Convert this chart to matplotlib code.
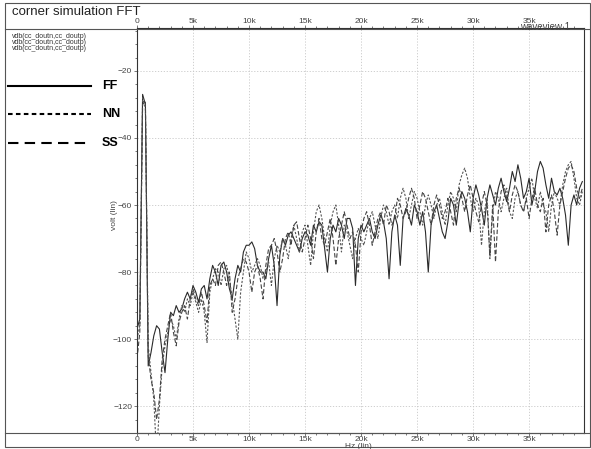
import numpy as np
import matplotlib.pyplot as plt
from matplotlib.lines import Line2D
from matplotlib.patches import Rectangle
from matplotlib.ticker import MultipleLocator, FuncFormatter

plt.rcParams['font.family'] = ['Liberation Sans', 'DejaVu Sans']

# frequency grid of the FFT, 250 Hz bins
freq = np.arange(160) * 250.0

ff = [-97, -94, -27, -30, -108, -104, -99, -96,
      -97, -104, -110, -100, -92, -93, -90, -92,
      -91, -88, -86, -88, -84, -86, -89, -85,
      -84, -88, -82, -78, -80, -84, -78, -77,
      -80, -85, -88, -82, -78, -80, -74, -72,
      -72, -71, -73, -78, -80, -80, -82, -76,
      -72, -78, -90, -75, -70, -72, -69, -68,
      -70, -72, -74, -70, -68, -69, -72, -66,
      -68, -65, -66, -73, -80, -70, -66, -68,
      -64, -66, -70, -64, -64, -67, -84, -70,
      -66, -68, -66, -64, -68, -70, -66, -63,
      -65, -70, -82, -68, -63, -66, -78, -64,
      -61, -63, -66, -60, -62, -66, -62, -68,
      -80, -66, -62, -60, -64, -68, -70, -65,
      -58, -60, -66, -59, -56, -58, -62, -68,
      -58, -54, -57, -61, -66, -58, -54, -57,
      -60, -55, -52, -56, -59, -55, -50, -53,
      -48, -52, -58, -56, -52, -60, -56, -50,
      -47, -49, -54, -58, -52, -56, -57, -55,
      -58, -63, -72, -60, -57, -60, -55, -53]

nn = [-100, -96, -28, -31, -102, -110, -118, -135,
      -120, -108, -102, -98, -94, -96, -100, -94,
      -90, -92, -88, -90, -86, -89, -92, -88,
      -92, -101, -86, -82, -79, -80, -84, -79,
      -78, -82, -88, -94, -100, -86, -80, -74,
      -76, -80, -78, -76, -78, -82, -80, -77,
      -84, -76, -72, -74, -70, -72, -76, -70,
      -66, -70, -74, -68, -66, -72, -78, -68,
      -62, -60, -64, -70, -74, -66, -62, -60,
      -66, -74, -66, -68, -72, -76, -70, -67,
      -70, -72, -68, -64, -62, -66, -70, -64,
      -60, -62, -66, -62, -60, -64, -58, -55,
      -58, -64, -60, -56, -58, -62, -66, -60,
      -57, -60, -64, -60, -58, -62, -66, -60,
      -56, -58, -62, -54, -51, -49, -52, -58,
      -62, -58, -60, -72, -62, -58, -76, -62,
      -56, -58, -62, -58, -55, -62, -64, -58,
      -56, -60, -62, -58, -55, -52, -58, -61,
      -56, -60, -62, -68, -60, -56, -58, -60,
      -54, -50, -48, -47, -52, -58, -60, -56]

ss = [-106, -98, -30, -29, -105, -112, -116, -124,
      -118, -106, -100, -96, -92, -98, -102, -95,
      -92, -90, -94, -88, -85, -88, -90, -86,
      -90, -95, -84, -82, -84, -78, -77, -80,
      -84, -80, -92, -88, -82, -79, -76, -77,
      -80, -86, -80, -78, -82, -88, -78, -73,
      -72, -70, -74, -80, -76, -70, -68, -72,
      -66, -65, -70, -74, -70, -66, -70, -76,
      -68, -64, -70, -72, -68, -64, -70, -78,
      -70, -66, -62, -66, -70, -68, -72, -80,
      -68, -64, -62, -66, -72, -68, -64, -62,
      -66, -60, -62, -66, -64, -58, -60, -64,
      -62, -58, -55, -58, -64, -60, -56, -58,
      -62, -66, -60, -57, -60, -64, -62, -58,
      -62, -66, -58, -55, -58, -62, -57, -54,
      -58, -62, -65, -60, -56, -60, -75, -60,
      -77, -62, -56, -54, -58, -62, -57, -54,
      -56, -60, -62, -58, -64, -58, -55, -60,
      -62, -58, -68, -60, -57, -62, -69, -60,
      -56, -52, -49, -48, -50, -55, -58, -55]

corner_names = ['FF', 'NN', 'SS']
trace_label = 'vdb(cc_doutn,cc_doutp)'

W, H = 591, 449
fig = plt.figure(figsize=(W / 100, H / 100), dpi=100)

def fx(x):
  return x / W

def fy(y):
  return 1 - y / H

ax = fig.add_axes([fx(137), fy(433), fx(584) - fx(137), fy(28) - fy(433)])

styles = [dict(color='#2a2a2a', lw=0.8, ls='-'),
          dict(color='#555555', lw=0.8, ls=(0, (2, 1.5))),
          dict(color='#444444', lw=0.8, ls=(0, (4, 2)))]
for vals, st in zip([ff, nn, ss], styles):
  ax.plot(freq, vals, **st)

ax.set_xlim(0, 39900)
ax.set_ylim(-128, -7.2)
ax.xaxis.set_major_locator(MultipleLocator(5000))
ax.xaxis.set_minor_locator(MultipleLocator(1000))
ax.yaxis.set_major_locator(MultipleLocator(20))
ax.yaxis.set_minor_locator(MultipleLocator(4))
ax.xaxis.set_major_formatter(FuncFormatter(lambda v, p: '0' if v == 0 else '%dk' % (v / 1000)))
ax.grid(True, which='major', color='#c8c8c8', ls=(0, (1.5, 2)), lw=0.6)
ax.tick_params(which='both', labelsize=6, colors='#444444', length=2, width=0.5,
               top=True, labeltop=True, pad=1.5)
ax.tick_params(axis='x', which='major', pad=0.5)
ax.tick_params(which='minor', length=1.5)
for s in ax.spines.values():
  s.set_linewidth(0.8)
  s.set_color('#333333')

fig.text(fx(115), fy(215), 'volt (lin)', rotation=90, fontsize=6, color='#444444',
         ha='center', va='center')
fig.text(fx(358), fy(446), 'Hz (lin)', fontsize=6, color='#444444', ha='center', va='center')
fig.text(fx(12), fy(12), 'corner simulation FFT', fontsize=9.5, color='#222222',
         ha='left', va='center')
fig.text(fx(545), fy(27), 'waveview 1', fontsize=7, color='#444444', ha='center', va='center')

for i in range(3):
  fig.text(fx(12), fy(37 + 6 * i), trace_label, fontsize=5, color='#333333',
           ha='left', va='center')

# hand legend on the left
leg_y = [86, 114, 143]
leg_ls = ['-', (0, (2.2, 1.6)), (0, (5, 3))]
for name, yy, ls in zip(corner_names, leg_y, leg_ls):
  fig.add_artist(Line2D([fx(8), fx(91)], [fy(yy), fy(yy)], color='black', lw=1.5, ls=ls))
  fig.text(fx(102), fy(yy), name, fontsize=9, fontweight='bold', ha='left', va='center')

# frame lines
fig.add_artist(Rectangle((fx(5), fy(447)), fx(590) - fx(5), fy(3) - fy(447),
                         fill=False, ec='#555555', lw=0.8))
fig.add_artist(Line2D([fx(5), fx(590)], [fy(29), fy(29)], color='#555555', lw=0.8))
fig.add_artist(Line2D([fx(5), fx(590)], [fy(433), fy(433)], color='#555555', lw=0.8))

fig.savefig('out.png', dpi=100)
